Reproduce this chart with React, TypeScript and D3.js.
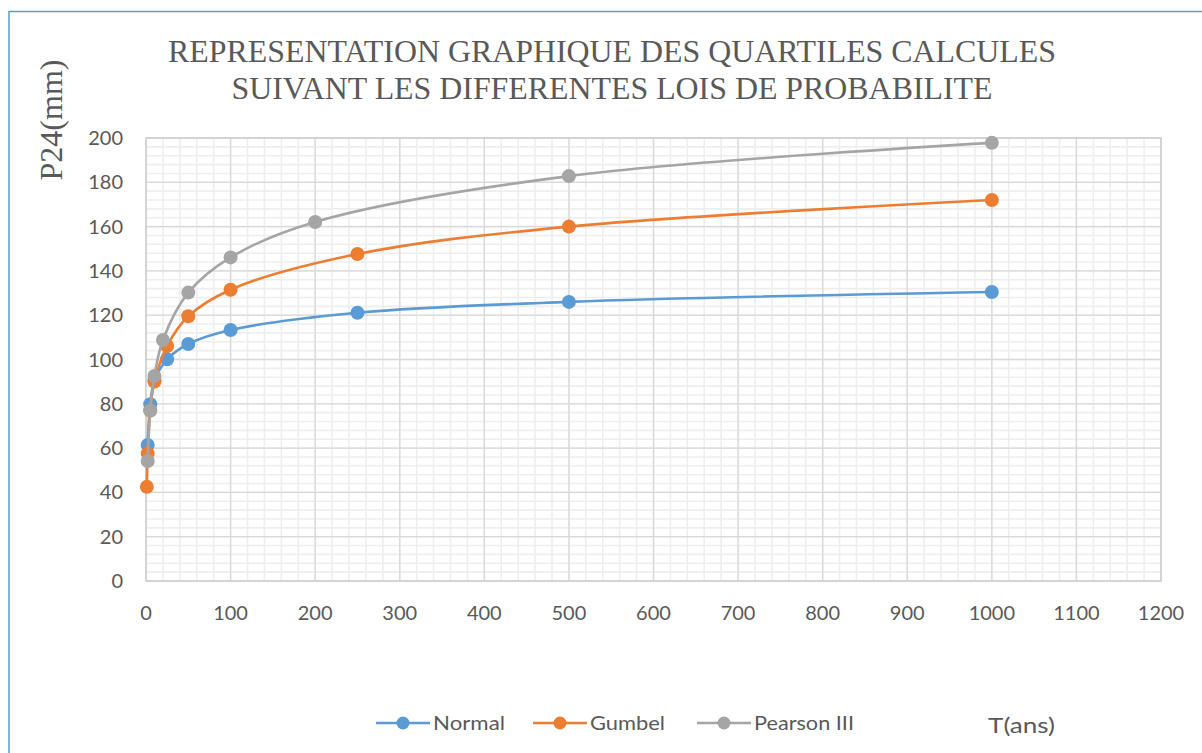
import React from "react";
import * as d3 from "d3";

const W = 1202;
const H = 753;

const normalT = [2, 5, 10, 25, 50, 100, 250, 500, 1000];
const normalP = [61.4, 79.8, 90.5, 100.1, 107, 113.3, 121.1, 126, 130.5];

const gumbelT = [1, 2, 5, 10, 25, 50, 100, 250, 500, 1000];
const gumbelP = [42.5, 57.6, 77, 90, 106.1, 119.5, 131.5, 147.6, 160, 172];

const pearsonT = [2, 5, 10, 20, 50, 100, 200, 500, 1000];
const pearsonP = [54.2, 76.9, 92.6, 108.8, 130.2, 146.1, 162.1, 182.8, 197.8];

const xTicks = [0, 100, 200, 300, 400, 500, 600, 700, 800, 900, 1000, 1100, 1200];
const yTicks = [0, 20, 40, 60, 80, 100, 120, 140, 160, 180, 200];

const titleLines = [
  "REPRESENTATION GRAPHIQUE DES QUARTILES CALCULES",
  "SUIVANT LES DIFFERENTES LOIS DE PROBABILITE",
];

const seriesNames = ["Normal", "Gumbel", "Pearson III"];
const seriesColors = ["#5B9BD5", "#ED7D31", "#A5A5A5"];

export default function App() {
  const x = d3.scaleLinear().domain([0, 1200]).range([146, 1161]);
  const y = d3.scaleLinear().domain([0, 200]).range([581, 138]);

  const xMinor = d3.range(0, 1200 + 1, 20);
  const yMinor = d3.range(0, 200 + 1, 4);

  const series = [
    { name: seriesNames[0], color: seriesColors[0], t: normalT, p: normalP },
    { name: seriesNames[1], color: seriesColors[1], t: gumbelT, p: gumbelP },
    { name: seriesNames[2], color: seriesColors[2], t: pearsonT, p: pearsonP },
  ];

  const line = d3
    .line<[number, number]>()
    .x((d) => x(d[0]))
    .y((d) => y(d[1]))
    .curve(d3.curveCatmullRom.alpha(0.5));

  const legendX = [376, 533, 697];
  const legendTextLen = [72, 75, 100];
  const font = "Lato, 'Open Sans', sans-serif";
  const serif = "'Liberation Serif', 'Times New Roman', serif";

  return (
    <svg
      width={W}
      height={H}
      style={{ position: "absolute", left: 0, top: 0, background: "#fff" }}
    >
      <rect x={0} y={0} width={W} height={H} fill="#fff" />
      {/* outer frame */}
      <rect x={9} y={11.5} width={W + 20} height={H + 20} fill="none" stroke="#5B9BD5" strokeWidth={1.5} />

      {/* title */}
      {titleLines.map((t, i) => (
        <text
          key={i}
          x={612}
          y={62 + i * 37}
          textAnchor="middle"
          fontFamily={serif}
          fontSize={32}
          fill="#595959"
          textLength={i === 0 ? 888 : 761}
          lengthAdjust="spacingAndGlyphs"
        >
          {t}
        </text>
      ))}

      {/* minor grid */}
      <g stroke="#eeeeee" strokeWidth={1.6}>
        {xMinor.map((v) => (
          <line key={"xm" + v} x1={x(v)} x2={x(v)} y1={y(0)} y2={y(200)} />
        ))}
        {yMinor.map((v) => (
          <line key={"ym" + v} x1={x(0)} x2={x(1200)} y1={y(v)} y2={y(v)} />
        ))}
      </g>
      {/* major grid */}
      <g stroke="#d9d9d9" strokeWidth={1.3}>
        {xTicks.map((v) => (
          <line key={"xM" + v} x1={x(v)} x2={x(v)} y1={y(0)} y2={y(200)} />
        ))}
        {yTicks.map((v) => (
          <line key={"yM" + v} x1={x(0)} x2={x(1200)} y1={y(v)} y2={y(v)} />
        ))}
      </g>
      <rect
        x={x(0)}
        y={y(200)}
        width={x(1200) - x(0)}
        height={y(0) - y(200)}
        fill="none"
        stroke="#d0d0d0"
        strokeWidth={1.5}
      />

      {/* tick labels */}
      <g fontFamily={font} fontSize={20} fill="#595959">
        {yTicks.map((v) => (
          <text key={"yl" + v} x={123} y={y(v)} dy="0.35em" textAnchor="end">
            {v}
          </text>
        ))}
        {xTicks.map((v) => (
          <text key={"xl" + v} x={x(v)} y={620} textAnchor="middle">
            {v}
          </text>
        ))}
      </g>

      {/* y axis title */}
      <text
        transform="translate(62,120) rotate(-90)"
        textAnchor="middle"
        fontFamily={serif}
        fontSize={32}
        fill="#595959"
      >
        P24(mm)
      </text>

      {/* series */}
      {series.map((s) => {
        const pts: [number, number][] = s.t.map((t, i) => [t, s.p[i]]);
        return (
          <g key={s.name}>
            <path d={line(pts) || ""} fill="none" stroke={s.color} strokeWidth={2.6} strokeLinecap="round" />
            {pts.map((d, i) => (
              <circle key={i} cx={x(d[0])} cy={y(d[1])} r={7} fill={s.color} />
            ))}
          </g>
        );
      })}

      {/* legend */}
      {series.map((s, i) => (
        <g key={"lg" + i}>
          <line x1={legendX[i]} x2={legendX[i] + 54} y1={723} y2={723} stroke={s.color} strokeWidth={2.6} />
          <circle cx={legendX[i] + 27} cy={723} r={6.5} fill={s.color} />
          <text
            x={legendX[i] + 57}
            y={730}
            fontFamily={font}
            fontSize={20}
            fill="#595959"
            textLength={legendTextLen[i]}
            lengthAdjust="spacingAndGlyphs"
          >
            {s.name}
          </text>
        </g>
      ))}
      <text
        x={988}
        y={733}
        fontFamily={font}
        fontSize={21}
        fill="#595959"
        textLength={67}
        lengthAdjust="spacingAndGlyphs"
      >
        T(ans)
      </text>
    </svg>
  );
}
